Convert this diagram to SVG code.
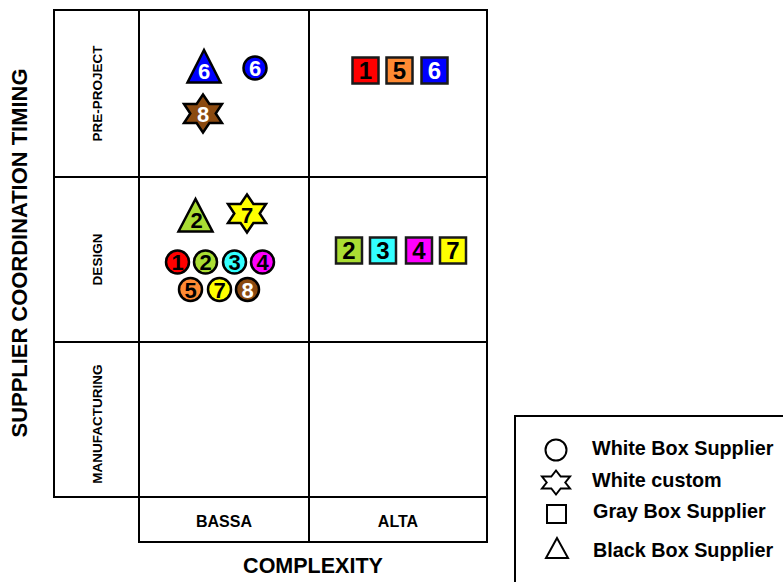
<svg xmlns="http://www.w3.org/2000/svg" width="783" height="582" viewBox="0 0 783 582">
<style>
.ln{fill:none;stroke:#000;stroke-width:2}
.sh{stroke:#000;stroke-width:2.5;stroke-linejoin:miter}
.sq{stroke:#1a1a1a;stroke-width:2.5}
.d{font-family:"Liberation Sans",Arial,sans-serif;font-weight:bold;font-size:22px;text-anchor:middle;fill:#000}
.ds{font-size:24px}
.w{fill:#fff}
.lab{font-family:"Liberation Sans",Arial,sans-serif;font-weight:bold;text-anchor:middle;fill:#000}
.leg{font-family:"Liberation Sans",Arial,sans-serif;font-weight:bold;font-size:19.8px;fill:#000}
.lg{fill:#fff;stroke:#000;stroke-width:2}
</style>
<rect width="783" height="582" fill="#fff"/>
<g id="grid">
<rect class="ln" x="54" y="10" width="85" height="487"/>
<rect class="ln" x="139" y="10" width="348" height="487"/>
<line class="ln" x1="309" y1="10" x2="309" y2="542"/>
<line class="ln" x1="54" y1="177" x2="487" y2="177"/>
<line class="ln" x1="54" y1="342" x2="487" y2="342"/>
<rect class="ln" x="139" y="497" width="348" height="45"/>
</g>
<g id="labels">
<text class="lab" font-size="21.5" transform="translate(27,253) rotate(-90)" textLength="369" lengthAdjust="spacingAndGlyphs">SUPPLIER COORDINATION TIMING</text>
<text class="lab" font-size="13.5" transform="translate(102,93.5) rotate(-90)">PRE-PROJECT</text>
<text class="lab" font-size="13.5" transform="translate(102,259.5) rotate(-90)">DESIGN</text>
<text class="lab" font-size="13.5" transform="translate(102,424) rotate(-90)">MANUFACTURING</text>
<text class="lab" font-size="16" x="224" y="527">BASSA</text>
<text class="lab" font-size="16" x="398" y="527">ALTA</text>
<text class="lab" font-size="21.5" x="313" y="573">COMPLEXITY</text>
</g>
<g id="preproject-bassa">
<polygon class="sh" fill="#0000ff" points="204,50 187.5,82.5 220.5,82.5"/>
<text class="d w" x="204" y="79">6</text>
<circle class="sh" fill="#0000ff" cx="255" cy="68" r="11.5"/>
<text class="d w" x="255" y="76">6</text>
<polygon class="sh" fill="#8b4a10" points="203,94.5 209.4,104 222,104 215.7,113.5 222,123 209.4,123 203,132.5 196.6,123 184,123 190.3,113.5 184,104 196.6,104"/>
<text class="d w" x="203" y="121.5">8</text>
</g>
<g id="preproject-alta">
<rect class="sq" fill="#ff0000" x="352.5" y="57.5" width="26" height="26"/>
<text class="d ds" x="365.5" y="79">1</text>
<rect class="sq" fill="#ff8a33" x="386.5" y="57.5" width="26" height="26"/>
<text class="d ds" x="399.5" y="79">5</text>
<rect class="sq" fill="#0000ff" x="421.5" y="57.5" width="26" height="26"/>
<text class="d ds w" x="434.5" y="79">6</text>
</g>
<g id="design-bassa">
<polygon class="sh" fill="#aadd33" points="195.5,199 178.5,231.5 212.5,231.5"/>
<text class="d" x="196.5" y="228">2</text>
<polygon class="sh" fill="#ffff00" points="247,194.5 253.4,204 266,204 259.7,213.5 266,223 253.4,223 247,232.5 240.6,223 228,223 234.3,213.5 228,204 240.6,204"/>
<text class="d" x="247" y="223">7</text>
<circle class="sh" fill="#ff0000" cx="177.5" cy="262" r="11.5"/>
<text class="d" x="177.5" y="270">1</text>
<circle class="sh" fill="#aadd33" cx="205.5" cy="262" r="11.5"/>
<text class="d" x="205.5" y="270">2</text>
<circle class="sh" fill="#33ffff" cx="234.5" cy="262" r="11.5"/>
<text class="d" x="234.5" y="270">3</text>
<circle class="sh" fill="#ff00ff" cx="262.5" cy="262" r="11.5"/>
<text class="d" x="262.5" y="270">4</text>
<circle class="sh" fill="#ff8a33" cx="190.5" cy="289.5" r="11.5"/>
<text class="d" x="190.5" y="297.5">5</text>
<circle class="sh" fill="#ffff00" cx="219.5" cy="289.5" r="11.5"/>
<text class="d" x="219.5" y="297.5">7</text>
<circle class="sh" fill="#8b4a10" cx="247.5" cy="289.5" r="11.5"/>
<text class="d w" x="247.5" y="297.5">8</text>
</g>
<g id="design-alta">
<rect class="sq" fill="#aadd33" x="336" y="237.5" width="26" height="26"/>
<text class="d ds" x="349" y="259">2</text>
<rect class="sq" fill="#33ffff" x="370" y="237.5" width="26" height="26"/>
<text class="d ds" x="383" y="259">3</text>
<rect class="sq" fill="#ff00ff" x="406" y="237.5" width="26" height="26"/>
<text class="d ds" x="419" y="259">4</text>
<rect class="sq" fill="#ffff00" x="440" y="237.5" width="26" height="26"/>
<text class="d ds" x="453" y="259">7</text>
</g>
<g id="legend">
<rect x="515" y="416" width="280" height="180" fill="#fff" stroke="#000" stroke-width="2"/>
<circle class="lg" cx="556" cy="450" r="10.5"/>
<text class="leg" x="592" y="455">White Box Supplier</text>
<polygon class="lg" points="556,470.5 560.7,476.5 570,476.5 565.3,482.5 570,488.5 560.7,488.5 556,494.5 551.3,488.5 542,488.5 546.7,482.5 542,476.5 551.3,476.5"/>
<text class="leg" x="592" y="487">White custom</text>
<rect class="lg" x="547" y="505" width="19" height="18"/>
<text class="leg" x="593" y="518">Gray Box Supplier</text>
<polygon class="lg" points="557,538 546,558 568,558"/>
<text class="leg" x="593" y="557">Black Box Supplier</text>
</g>
</svg>
